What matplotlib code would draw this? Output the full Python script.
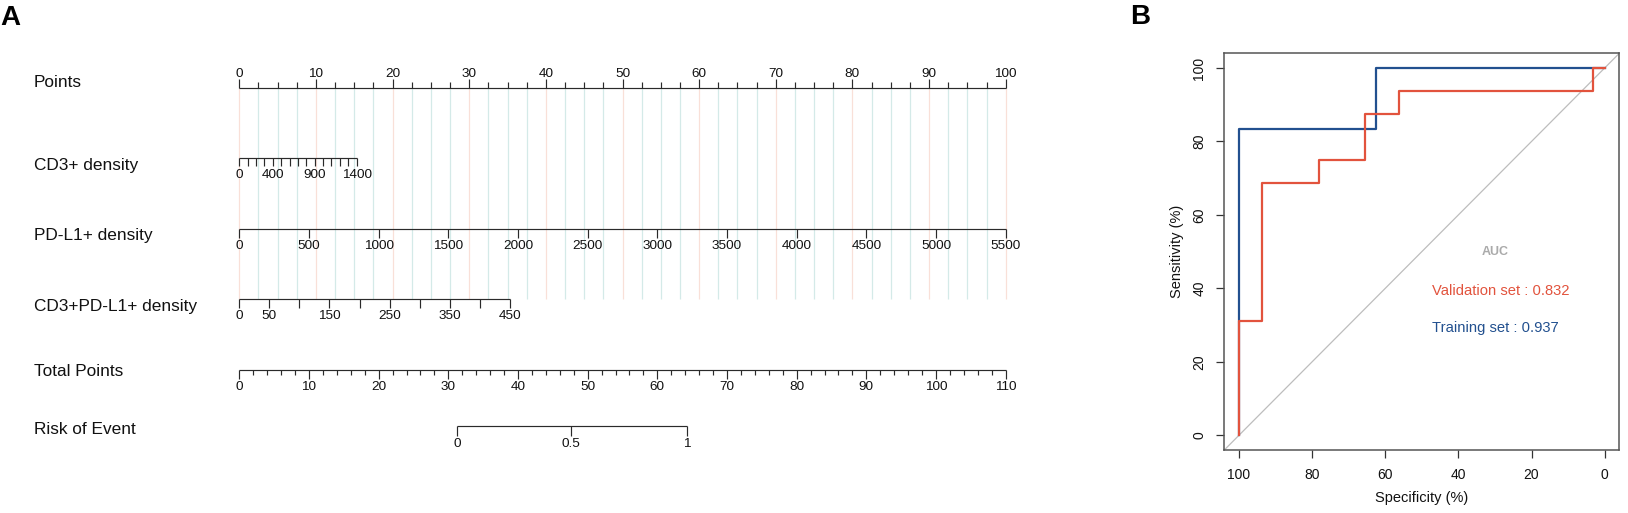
import matplotlib
matplotlib.use('Agg')
import matplotlib.pyplot as plt
import numpy as np

plt.rcParams['font.family'] = ['Liberation Sans', 'DejaVu Sans']

# ---------------- Nomogram data ----------------
row_labels = ['Points', 'CD3+ density', 'PD-L1+ density', 'CD3+PD-L1+ density',
              'Total Points', 'Risk of Event']
points_ticks = np.arange(0, 100.01, 2.5)
points_labels = [0, 10, 20, 30, 40, 50, 60, 70, 80, 90, 100]

cd3_ticks = [0, 100, 200, 300, 400, 500, 600, 700, 800, 900, 1000, 1100, 1200, 1300, 1400]
cd3_labels = [0, 400, 900, 1400]
cd3_max_value, cd3_max_points = 1400, 15.3

pdl1_ticks = [0, 500, 1000, 1500, 2000, 2500, 3000, 3500, 4000, 4500, 5000, 5500]
pdl1_labels = pdl1_ticks
pdl1_max_value, pdl1_max_points = 5500, 100.0

dp_ticks = [0, 50, 100, 150, 200, 250, 300, 350, 400, 450]
dp_labels = [0, 50, 150, 250, 350, 450]
dp_max_value, dp_max_points = 450, 35.3

total_ticks = np.arange(0, 110.01, 2)
total_labels = [0, 10, 20, 30, 40, 50, 60, 70, 80, 90, 100, 110]
total_max = 110

risk_labels = ['0', '0.5', '1']
risk_total_points = [31.3, 47.65, 64.2]

# ---------------- ROC data ----------------
train_spec = [100, 100, 62.5, 62.5, 0]
train_sens = [0, 83.3, 83.3, 100, 100]
val_spec = [100, 100, 93.75, 93.75, 78.1, 78.1, 65.6, 65.6, 56.25, 56.25, 3.1, 3.1, 0]
val_sens = [0, 31.25, 31.25, 68.75, 68.75, 75, 75, 87.5, 87.5, 93.75, 93.75, 100, 100]
auc_val = 0.832
auc_train = 0.937

# ---------------- Figure ----------------
W, H = 1628, 513
fig = plt.figure(figsize=(W / 100, H / 100), dpi=100)

# Nomogram axes: x in points units, y in pixel rows
px0, px100 = 239.3, 1005.7
ppp = (px100 - px0) / 100.0
nom_w = 1130
ax = fig.add_axes([0, 0, nom_w / W, 1])
ax.set_xlim(-px0 / ppp, (nom_w - px0) / ppp)
ax.set_ylim(H, 0)
ax.axis('off')

line_c = '#2a2a2a'
lw = 0.85
tfs = 9.7
lfs = 12.4

y_points, y_cd3, y_pdl1, y_dp, y_total, y_risk = 87.7, 158, 229, 299, 370, 425.7
label_baselines = [87, 170, 240, 310.7, 376, 434]

# reference grid lines
for p in points_ticks:
    col = '#F9E0D8' if abs(p % 10) < 1e-9 else '#D4EAE8'
    ax.vlines(p, y_points, y_dp, color=col, lw=0.9, zorder=0)

# Points axis (ticks up)
ax.hlines(y_points, 0, 100, color=line_c, lw=lw)
for p in points_ticks:
    major = any(abs(p - q) < 1e-9 for q in points_labels)
    ax.vlines(p, y_points - (9 if major else 5.5), y_points, color=line_c, lw=lw)
for q in points_labels:
    ax.text(q, y_points - 10.4, str(q), ha='center', va='baseline', fontsize=tfs, color='#111')


def down_scale(y, tick_vals, label_vals, max_value, max_points, tick_len=9):
    scale = max_points / max_value
    ax.hlines(y, 0, max_value * scale, color=line_c, lw=lw)
    for v in tick_vals:
        ax.vlines(v * scale, y, y + tick_len, color=line_c, lw=lw)
    for v in label_vals:
        ax.text(v * scale, y + 20, str(v), ha='center', va='baseline', fontsize=tfs, color='#111')


down_scale(y_cd3, cd3_ticks, cd3_labels, cd3_max_value, cd3_max_points, 8)
down_scale(y_pdl1, pdl1_ticks, pdl1_labels, pdl1_max_value, pdl1_max_points, 9)
down_scale(y_dp, dp_ticks, dp_labels, dp_max_value, dp_max_points, 9)

# Total points
tscale = 100.0 / total_max
ax.hlines(y_total, 0, 100, color=line_c, lw=lw)
for t in total_ticks:
    major = any(abs(t - q) < 1e-9 for q in total_labels)
    ax.vlines(t * tscale, y_total, y_total + (9 if major else 4.5), color=line_c, lw=lw)
for q in total_labels:
    ax.text(q * tscale, y_total + 20, str(q), ha='center', va='baseline', fontsize=tfs, color='#111')

# Risk of event
rx = [t * tscale for t in risk_total_points]
ax.hlines(y_risk, rx[0], rx[-1], color=line_c, lw=lw)
for x, lab in zip(rx, risk_labels):
    ax.vlines(x, y_risk, y_risk + 10, color=line_c, lw=lw)
    ax.text(x, y_risk + 21, lab, ha='center', va='baseline', fontsize=tfs, color='#111')

# Row labels
lab_x = (34 - px0) / ppp
for lab, yb in zip(row_labels, label_baselines):
    ax.text(lab_x, yb, lab, ha='left', va='baseline', fontsize=lfs, color='#111')

# ---------------- ROC axes ----------------
l, r, t, b = 1224.3, 1619.3, 53.3, 450
rax = fig.add_axes([l / W, 1 - b / H, (r - l) / W, (b - t) / H])
rax.set_xlim(104, -4)
rax.set_ylim(-4, 104)
box_c = '#555555'
for s in rax.spines.values():
    s.set_color(box_c)
    s.set_linewidth(1.1)
rax.set_xticks([100, 80, 60, 40, 20, 0])
rax.set_yticks([0, 20, 40, 60, 80, 100])
rax.tick_params(direction='out', length=6, width=0.9, color='#333', labelsize=10,
                labelcolor='#111', pad=7)
for lab in rax.get_yticklabels():
    lab.set_rotation(90)
    lab.set_va('center')
rax.axline((100, 0), (0, 100), color='#BDBDBD', lw=0.9, zorder=1)
rax.plot(train_spec, train_sens, color='#22508F', lw=1.6, zorder=3)
rax.plot(val_spec, val_sens, color='#E2533D', lw=1.6, zorder=4)

rax.text(30, 50, 'AUC', ha='center', va='center', fontsize=9, fontweight='bold', color='#AAAAAA')
rax.text(47.2, 39.2, f'Validation set : {auc_val:.3f}', ha='left', va='center', fontsize=10.6,
         color='#E2533D')
rax.text(47.2, 29.3, f'Training set : {auc_train:.3f}', ha='left', va='center', fontsize=10.6,
         color='#22508F')
rax.text(0.5, -(498 - b) / (b - t), 'Specificity (%)', transform=rax.transAxes,
         ha='center', va='center', fontsize=10.5, color='#111')
rax.text((1176.7 - l) / (r - l), 0.5, 'Sensitivity (%)', transform=rax.transAxes,
         ha='center', va='center', rotation=90, fontsize=10.5, color='#111')

# Panel letters
fig.text(0.5 / W, 1 - 25 / H, 'A', fontsize=20, fontweight='bold', va='baseline', ha='left')
fig.text(1130 / W, 1 - 24 / H, 'B', fontsize=20, fontweight='bold', va='baseline', ha='left')

fig.savefig('out.png', dpi=100)
